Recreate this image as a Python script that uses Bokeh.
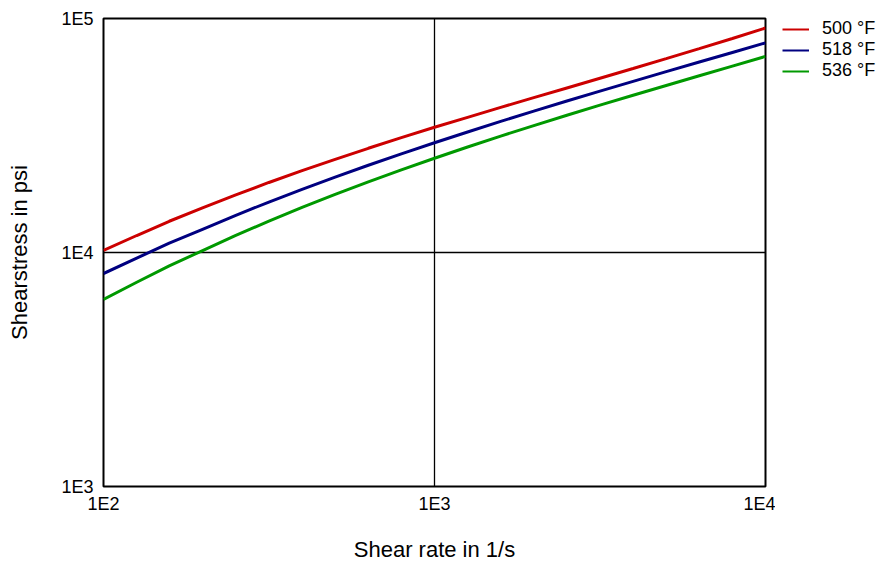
from bokeh.plotting import figure
from bokeh.models import FixedTicker, Legend, LegendItem, ColumnDataSource
from bokeh.layouts import row
from bokeh.embed import file_html
from bokeh.resources import INLINE

# Data (log-log)
shear_rate = [100, 126, 158, 200, 251, 316, 398, 501, 631, 794, 1000,
              1259, 1585, 1995, 2512, 3162, 3981, 5012, 6310, 7943, 10000]
stress_500F = [10200, 11820, 13600, 15540, 17640, 19920, 22380, 25020, 27880, 30950, 34280,
               37820, 41690, 45900, 50490, 55540, 61120, 67350, 74300, 82150, 91060]
stress_518F = [8130, 9465, 10960, 12600, 14420, 16430, 18610, 20990, 23590, 26390, 29440,
               32740, 36330, 40200, 44380, 48940, 53880, 59280, 65160, 71600, 78700]
stress_536F = [6300, 7460, 8760, 10220, 11830, 13620, 15580, 17710, 20040, 22560, 25290,
               28240, 31440, 34870, 38600, 42620, 46990, 51740, 56920, 62600, 68870]
series_labels = ["500 °F", "518 °F", "536 °F"]
series_colors = ["#cc0000", "#000080", "#009900"]
x_ticks = [100, 1000, 10000]
x_tick_labels = ["1E2", "1E3", "1E4"]
y_ticks = [1000, 10000, 100000]
y_tick_labels = ["1E3", "1E4", "1E5"]

FONT = "Liberation Sans"
H = 564

p = figure(width=775, height=H, x_axis_type="log", y_axis_type="log",
           x_range=(100, 10000), y_range=(1000, 100000),
           output_backend="svg", toolbar_location=None,
           min_border_left=103, min_border_right=10, min_border_top=18, min_border_bottom=78)

p.background_fill_color = "white"
p.border_fill_color = "white"
p.outline_line_color = "black"
p.outline_line_width = 2

series = [stress_500F, stress_518F, stress_536F]
for vals, col in zip(series, series_colors):
    src = ColumnDataSource(dict(x=shear_rate, y=vals))
    p.line("x", "y", source=src, line_color=col, line_width=3)

# grid
for g in (p.xgrid, p.ygrid):
    g.grid_line_color = "black"
    g.grid_line_width = 1.3
    g.minor_grid_line_color = None
p.xgrid.ticker = FixedTicker(ticks=[1000])
p.ygrid.ticker = FixedTicker(ticks=[10000])

# axes
p.xaxis.ticker = FixedTicker(ticks=x_ticks)
p.yaxis.ticker = FixedTicker(ticks=y_ticks)
p.xaxis.major_label_overrides = {t: l for t, l in zip(x_ticks, x_tick_labels)}
p.yaxis.major_label_overrides = {t: l for t, l in zip(y_ticks, y_tick_labels)}
for ax in (p.xaxis, p.yaxis):
    ax.axis_line_color = None
    ax.major_tick_line_color = None
    ax.minor_tick_line_color = None
    ax.major_tick_in = 0
    ax.major_tick_out = 0
    ax.major_label_text_font = FONT
    ax.major_label_text_font_size = "18px"
    ax.major_label_text_color = "black"
    ax.axis_label_text_font = FONT
    ax.axis_label_text_font_size = "22px"
    ax.axis_label_text_font_style = "normal"
    ax.axis_label_text_color = "black"

p.xaxis.axis_label = "Shear rate in 1/s"
p.yaxis.axis_label = "Shearstress in psi"
p.xaxis.major_label_standoff = 7
p.yaxis.major_label_standoff = 10
p.xaxis.axis_label_standoff = 20
p.yaxis.axis_label_standoff = 26

# legend panel (separate narrow figure to the right of the frame)
p2 = figure(width=104, height=H, x_range=(0, 1), y_range=(0, 1),
            output_backend="svg", toolbar_location=None,
            x_axis_location=None, y_axis_location=None,
            min_border_left=7, min_border_top=18, min_border_right=0, min_border_bottom=0)
p2.outline_line_color = None
p2.grid.visible = False
p2.background_fill_color = "white"
p2.border_fill_color = "white"
items = []
for lab, col in zip(series_labels, series_colors):
    # legend-only renderer: its points lie outside this panel's range, so only the legend swatch shows
    dummy = p2.line(x=[5, 6], y=[5, 6], line_color=col, line_width=2)
    items.append(LegendItem(label=lab, renderers=[dummy]))
legend = Legend(items=items, location="top_left", margin=0, padding=0,
                glyph_width=27, glyph_height=18, label_height=18, spacing=-4,
                label_standoff=13, label_text_font=FONT, label_text_font_size="18px",
                label_text_color="black",
                border_line_color=None, background_fill_alpha=0)
p2.add_layout(legend, "center")

layout = row(p, p2, spacing=0)
open("out.html", "w").write(file_html(layout, INLINE))
